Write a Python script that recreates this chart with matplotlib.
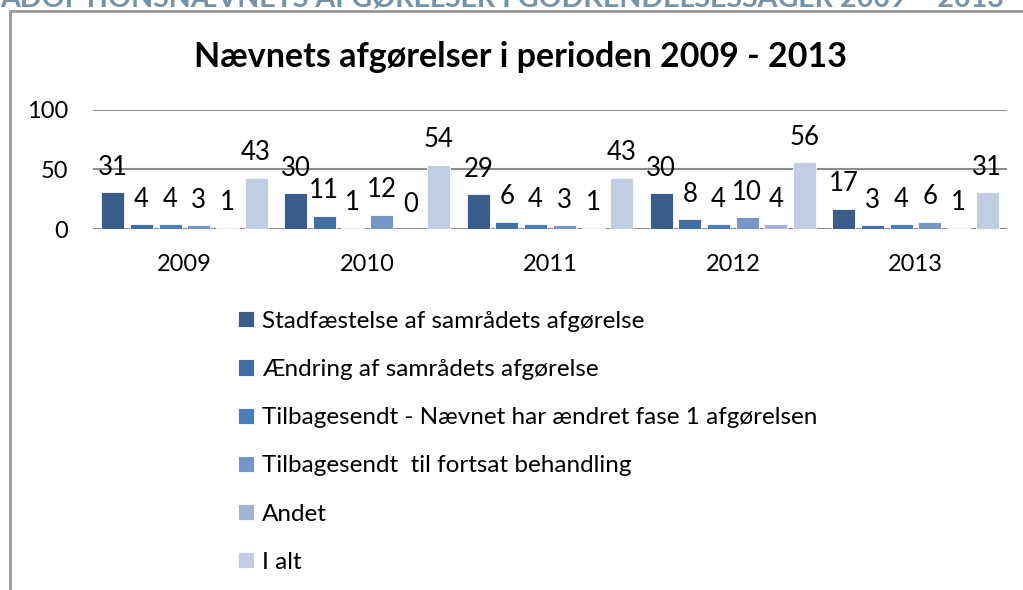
import matplotlib.pyplot as plt
import matplotlib.patches as mpatches
import numpy as np

plt.rcParams['font.family'] = ['Lato', 'DejaVu Sans']

# data
years = ['2009', '2010', '2011', '2012', '2013']
series_names = [
    'Stadfæstelse af samrådets afgørelse',
    'Ændring af samrådets afgørelse',
    'Tilbagesendt - Nævnet har ændret fase 1 afgørelsen',
    'Tilbagesendt  til fortsat behandling',
    'Andet',
    'I alt',
]
stadfaestelse = [31, 30, 29, 30, 17]
aendring = [4, 11, 6, 8, 3]
tilbage_fase1 = [4, 1, 4, 4, 4]
tilbage_fortsat = [3, 12, 3, 10, 6]
andet = [1, 0, 1, 4, 1]
i_alt = [43, 54, 43, 56, 31]

series = [stadfaestelse, aendring, tilbage_fase1, tilbage_fortsat, andet, i_alt]
colors = ['#385d8a', '#426fa3', '#4a7ebb', '#7497c8', '#a1b4d5', '#c1cde2']

fig = plt.figure(figsize=(10.23, 5.9), dpi=100, facecolor='white')

# page header (cut off at top) and chart frame
fig.text(0.0, 1 - 7 / 590, 'ADOPTIONSNÆVNETS AFGØRELSER I GODKENDELSESSAGER 2009 – 2013',
         color='#7492a8', fontsize=20.6, fontweight='bold', ha='left', va='baseline')
frame = mpatches.Rectangle((10 / 1023, -0.1), 1.2, 1 - 11 / 590 + 0.1, transform=fig.transFigure,
                           fill=False, edgecolor='#9a9a9a', linewidth=2)
fig.patches.append(frame)

ax = fig.add_axes([93 / 1023, 1 - 229 / 590, (1007 - 93) / 1023, (229 - 110) / 590])
x = np.arange(len(years))
slot = 0.157
width = 0.126
for k, (vals, name, col) in enumerate(zip(series, series_names, colors)):
    pos = x + (k - 2.5) * slot
    ax.bar(pos, vals, width, color=col, edgecolor='white', linewidth=0.6, label=name, zorder=3)
    for px, v in zip(pos, vals):
        ax.annotate(str(v), (px, v), xytext=(0, 18), textcoords='offset points',
                    ha='center', va='center', fontsize=18.5, color='black', zorder=4)

ax.set_xlim(-0.5, 4.5)
ax.set_ylim(0, 100)
ax.set_yticks([0, 50, 100])
ax.set_xticks(x)
ax.set_xticklabels(years)
ax.tick_params(length=0, labelsize=17)
ax.tick_params(axis='x', pad=18)
ax.tick_params(axis='y', pad=18)
ax.grid(axis='y', color='#8c8c8c', linewidth=1.5, zorder=0)
for s in ax.spines.values():
    s.set_visible(False)

fig.text(521 / 1023, 1 - 57 / 590, 'Nævnets afgørelser i perioden 2009 - 2013',
         fontsize=24.5, fontweight='bold', ha='center', va='center')

handles, labels = ax.get_legend_handles_labels()
fig.legend(handles, labels, loc='upper left', bbox_to_anchor=(228 / 1023, 1 - 301 / 590),
           frameon=False, fontsize=17.5, handlelength=0.65, handleheight=0.65,
           handletextpad=0.35, labelspacing=1.12, borderaxespad=0)

fig.savefig('out.png', dpi=100)
